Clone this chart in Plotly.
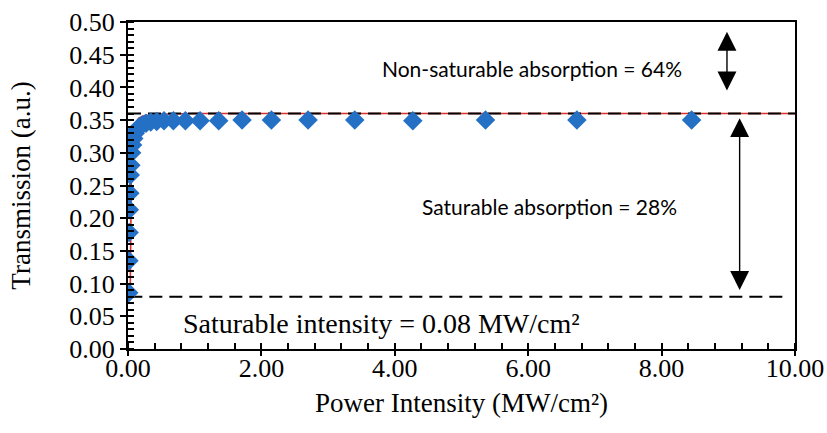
import plotly.graph_objects as go

power = [0.011, 0.014, 0.017, 0.021, 0.027, 0.034, 0.043, 0.054, 0.068, 0.086,
         0.108, 0.136, 0.171, 0.215, 0.27, 0.34, 0.43, 0.54, 0.68, 0.86,
         1.08, 1.36, 1.71, 2.15, 2.70, 3.40, 4.27, 5.36, 6.73, 8.45]
trans = [0.086, 0.135, 0.178, 0.213, 0.238, 0.266, 0.281, 0.300, 0.312, 0.322,
         0.330, 0.336, 0.340, 0.343, 0.345, 0.347, 0.348, 0.349, 0.349, 0.349,
         0.349, 0.349, 0.350, 0.350, 0.350, 0.350, 0.349, 0.350, 0.350, 0.350]

# Fitted curve
fit_x = [0.033, 0.036, 0.040, 0.045, 0.052, 0.062, 0.08, 0.11, 0.16, 0.25, 0.45, 1.0, 10.0]
fit_y = [0.08, 0.14, 0.20, 0.25, 0.29, 0.315, 0.333, 0.345, 0.353, 0.357, 0.359, 0.36, 0.36]

# Reference levels
upper_level = 0.36
lower_level = 0.08
upper_x = [0.0, 10.0]
lower_x = [0.02, 9.9]

# Arrow positions
arrow1_x, arrow1_y0, arrow1_y1 = 8.98, 0.393, 0.485
arrow2_x, arrow2_y0, arrow2_y1 = 9.17, 0.088, 0.353

serif = "Liberation Serif, Times New Roman, serif"
sans = "Lato, Noto Sans, sans-serif"

L, R, T, B = 128, 795, 22, 349

fig = go.Figure()
fig.add_trace(go.Scatter(x=fit_x, y=fit_y, mode="lines",
                         line=dict(color="#E0302E", width=1.6), hoverinfo="skip"))
fig.add_trace(go.Scatter(x=upper_x, y=[upper_level] * 2, mode="lines",
                         line=dict(color="black", width=2, dash="13px,7px")))
fig.add_trace(go.Scatter(x=lower_x, y=[lower_level] * 2, mode="lines",
                         line=dict(color="black", width=2, dash="13px,7px")))
fig.add_trace(go.Scatter(x=power, y=trans, mode="markers",
                         marker=dict(symbol="diamond", size=15, color="#2470C5")))

for ax_x, y0, y1 in [(arrow1_x, arrow1_y0, arrow1_y1), (arrow2_x, arrow2_y0, arrow2_y1)]:
    fig.add_annotation(x=ax_x, y=y1, ax=ax_x, ay=y0, xref="x", yref="y",
                       axref="x", ayref="y", text="", showarrow=True,
                       arrowhead=2, arrowside="end+start", arrowsize=2.7,
                       arrowwidth=1.4, arrowcolor="black", standoff=0, startstandoff=0)


def px_to_data(px, py):
    return (px - L) / (R - L) * 10.0, (B - py) / (B - T) * 0.5


labels = [
    ("Non-saturable absorption = 64%", 532, 68, sans, 21),
    ("Saturable absorption = 28%", 549, 206, sans, 21),
    ("Saturable intensity = 0.08 MW/cm²", 381, 323, serif, 28),
]
for txt, px, py, fam, sz in labels:
    dx, dy = px_to_data(px, py)
    fig.add_annotation(x=dx, y=dy, xref="x", yref="y", text=txt, showarrow=False,
                       font=dict(family=fam, size=sz, color="black"))

fig.update_layout(
    width=827, height=433,
    margin=dict(l=L, r=827 - R, t=T, b=433 - B, autoexpand=False),
    paper_bgcolor="white", plot_bgcolor="white",
    showlegend=False,
    font=dict(family=serif, color="black"),
)
fig.update_xaxes(range=[0, 10], dtick=2, tickformat=".2f", showgrid=False, zeroline=False,
                 automargin=False,
                 showline=True, linecolor="black", linewidth=2, mirror=True,
                 ticks="outside", ticklen=5, tickwidth=2, tickcolor="black",
                 ticklabelstandoff=-10,
                 minor=dict(ticks="inside", dtick=0.4, ticklen=6, tickwidth=1.5, tickcolor="black"),
                 tickfont=dict(family=serif, size=26),
                 title=dict(text="Power Intensity (MW/cm²)", font=dict(family=serif, size=27), standoff=11))
fig.update_yaxes(range=[0, 0.5], dtick=0.05, tickformat=".2f", showgrid=False, zeroline=False,
                 automargin=False,
                 showline=True, linecolor="black", linewidth=2, mirror=True,
                 ticks="outside", ticklen=6, tickwidth=2, tickcolor="black",
                 minor=dict(ticks="inside", dtick=0.01, ticklen=6, tickwidth=1.5, tickcolor="black"),
                 tickfont=dict(family=serif, size=26),
                 title=dict(text="Transmission (a.u.)", font=dict(family=serif, size=27), standoff=31))

fig.write_html("out.html")
